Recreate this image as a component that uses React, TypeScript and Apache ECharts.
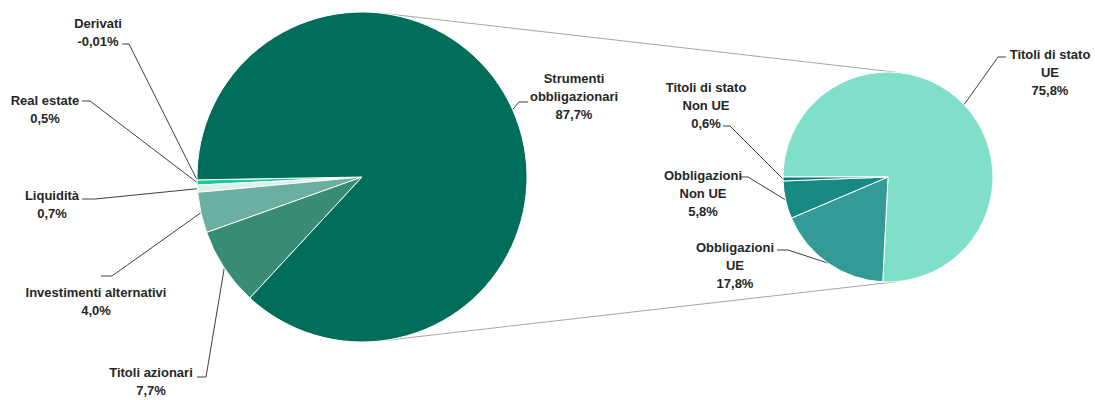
import React, { useEffect, useRef } from "react";
import * as echarts from "echarts";

// ---- Data ----
const mainCategories = [
  "Derivati",
  "Real estate",
  "Liquidità",
  "Investimenti alternativi",
  "Titoli azionari",
  "Strumenti obbligazionari",
];
const mainLabelNames = [
  "Derivati",
  "Real estate",
  "Liquidità",
  "Investimenti alternativi",
  "Titoli azionari",
  "Strumenti\nobbligazionari",
];
const mainValues = [-0.01, 0.5, 0.7, 4.0, 7.7, 87.7];

const bondCategories = [
  "Titoli di stato UE",
  "Obbligazioni UE",
  "Obbligazioni Non UE",
  "Titoli di stato Non UE",
];
const bondLabelNames = [
  "Titoli di stato\nUE",
  "Obbligazioni\nUE",
  "Obbligazioni\nNon UE",
  "Titoli di stato\nNon UE",
];
const bondValues = [75.8, 17.8, 5.8, 0.6];

// ---- Styles / layout ----
const mainColors = ["#0B8C74", "#19C9A0", "#DCEFEA", "#6AAF9F", "#388B74", "#006E5A"];
const bondColors = ["#80DFC9", "#339A95", "#188A84", "#0E7A71"];

const MAIN_CENTER = [362, 177];
const MAIN_R = 165;
const MAIN_START = 181;
const BOND_CENTER = [888, 177];
const BOND_R = 105;
const BOND_START = 180;

// label centres
const mainLabelPos = [
  [98, 32],
  [45, 109],
  [52, 204],
  [96, 301],
  [151, 381],
  [574, 96],
];
const bondLabelPos = [
  [1050, 72],
  [735, 265],
  [703, 193],
  [706, 105],
];
// leader line: [elbow, end at label]
const mainLeader = [
  [[129, 44], [122, 44]],
  [[90, 101], [82, 101]],
  [[95, 199], [82, 199]],
  [[112, 276], [101, 276]],
  [[206, 377], [197, 377]],
  [[519, 102], [528, 102]],
];
const bondLeader = [
  [[998, 57], [1006, 57]],
  [[788, 250], [777, 250]],
  [[748, 177], [740, 177]],
  [[730, 126], [723, 126]],
];

const fmt = (v: number) =>
  (Math.abs(v) < 0.1 ? v.toFixed(2) : v.toFixed(1)).replace(".", ",") + "%";

// outer-edge midpoint of each slice, derived from the values
function sliceMidPoints(values: number[], center: number[], r: number, start: number, clockwise: boolean) {
  const abs = values.map((v) => Math.abs(v));
  const total = abs.reduce((a, b) => a + b, 0);
  let acc = 0;
  return abs.map((v) => {
    const t = ((acc + v / 2) / total) * 360;
    acc += v;
    const phi = ((clockwise ? start - t : start + t) * Math.PI) / 180;
    return [center[0] + r * Math.cos(phi), center[1] - r * Math.sin(phi)];
  });
}

const labelStyle = {
  show: true,
  fontFamily: "Liberation Sans",
  fontWeight: "bold" as const,
  fontSize: 13,
  lineHeight: 18,
  color: "#262626",
  align: "center" as const,
};

const labelLine = {
  show: true,
  length: 10,
  length2: 8,
  smooth: false,
  lineStyle: { color: "#404040", width: 1 },
};

function tangentLines() {
  const [x1, y1] = MAIN_CENTER;
  const [x2, y2] = BOND_CENTER;
  const d = Math.hypot(x2 - x1, y2 - y1);
  const nx = (MAIN_R - BOND_R) / d;
  const ny = Math.sqrt(1 - nx * nx);
  return [-1, 1].map((s) => ({
    type: "line",
    z: -1,
    shape: {
      x1: x1 + MAIN_R * nx,
      y1: y1 + s * MAIN_R * ny,
      x2: x2 + BOND_R * nx,
      y2: y2 + s * BOND_R * ny,
    },
    style: { stroke: "#A6A6A6", lineWidth: 1 },
  }));
}

export default function App() {
  const ref = useRef<HTMLDivElement>(null);
  useEffect(() => {
    if (!ref.current) return;
    const chart = echarts.init(ref.current, null, { renderer: "svg" });
    const mainMid = sliceMidPoints(mainValues, MAIN_CENTER, MAIN_R, MAIN_START, false);
    const bondMid = sliceMidPoints(bondValues, BOND_CENTER, BOND_R, BOND_START, true);
    chart.setOption({
      animation: false,
      backgroundColor: "#ffffff",
      graphic: tangentLines(),
      series: [
        {
          type: "pie",
          center: MAIN_CENTER,
          radius: MAIN_R,
          startAngle: MAIN_START,
          clockwise: false,
          avoidLabelOverlap: false,
          itemStyle: { borderColor: "#ffffff", borderWidth: 1 },
          label: {
            ...labelStyle,
            formatter: (p: any) =>
              mainLabelNames[p.dataIndex] + "\n" + fmt(mainValues[p.dataIndex]),
          },
          labelLine,
          labelLayout: (p: any) => ({
            x: mainLabelPos[p.dataIndex][0],
            y: mainLabelPos[p.dataIndex][1],
            align: "center",
            verticalAlign: "middle",
            labelLinePoints: [mainMid[p.dataIndex], ...mainLeader[p.dataIndex]],
          }),
          data: mainCategories.map((name, i) => ({
            name,
            value: Math.abs(mainValues[i]),
            itemStyle: { color: mainColors[i] },
          })),
        },
        {
          type: "pie",
          center: BOND_CENTER,
          radius: BOND_R,
          startAngle: BOND_START,
          clockwise: true,
          avoidLabelOverlap: false,
          itemStyle: { borderColor: "#ffffff", borderWidth: 1 },
          label: {
            ...labelStyle,
            formatter: (p: any) =>
              bondLabelNames[p.dataIndex] + "\n" + fmt(bondValues[p.dataIndex]),
          },
          labelLine,
          labelLayout: (p: any) => ({
            x: bondLabelPos[p.dataIndex][0],
            y: bondLabelPos[p.dataIndex][1],
            align: "center",
            verticalAlign: "middle",
            labelLinePoints: [bondMid[p.dataIndex], ...bondLeader[p.dataIndex]],
          }),
          data: bondCategories.map((name, i) => ({
            name,
            value: bondValues[i],
            itemStyle: { color: bondColors[i] },
          })),
        },
      ],
    });
    return () => chart.dispose();
  }, []);
  return (
    <div
      ref={ref}
      style={{ position: "fixed", left: 0, top: 0, width: 1095, height: 400, background: "#fff" }}
    />
  );
}
